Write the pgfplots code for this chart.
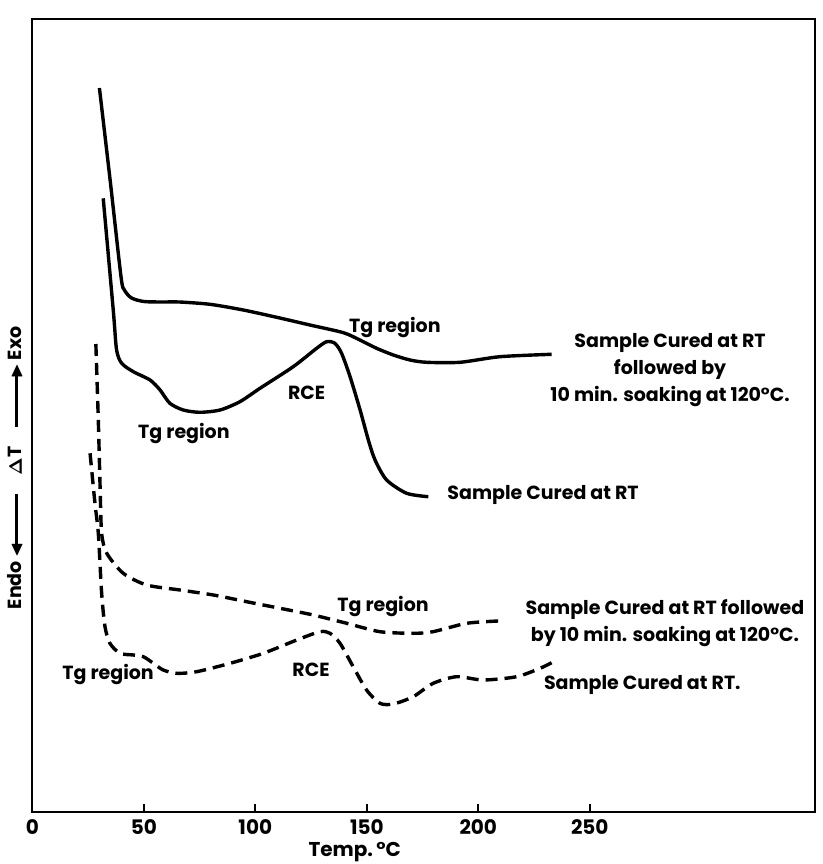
\documentclass[border=0pt]{standalone}
\usepackage[no-math]{fontspec}
\setmainfont{Poppins}
\usepackage{amssymb}
\usepackage{pgfplots}
\pgfplotsset{compat=1.18}
\tikzset{lbl/.style={font=\bfseries\fontsize{9.5}{13.5}\selectfont, inner sep=1pt}}
\begin{document}
\begin{tikzpicture}
\begin{axis}[
  scale only axis,
  width=391.35pt, height=396.5pt,
  xmin=0, xmax=351, ymin=0, ymax=793,
  axis line style={line width=1pt},
  xtick={0,50,100,150,200,250},
  xtick pos=bottom, xtick align=inside,
  major tick length=4pt,
  tick style={line width=1pt, black},
  ytick=\empty,
  clip=false,
  /pgf/number format/assume math mode=true,
  xticklabel style={anchor=center, yshift=-7.5pt, font=\bfseries\fontsize{10}{12}\selectfont},
  xlabel={Temp.\,°C},
  xlabel style={at={(axis description cs:0.412,0)}, anchor=center, yshift=-20pt, font=\bfseries\fontsize{10}{12}\selectfont},
  ylabel={Endo\,$\blacktriangleleft$\kern-1.5pt\rule[2.2pt]{26pt}{1.2pt}\quad$\mathbf{\Delta}$T\quad\rule[2.2pt]{26pt}{1.2pt}\kern-1.5pt$\blacktriangleright$\,Exo},
  ylabel style={at={(axis description cs:0,0.434)}, anchor=center, yshift=8.5pt, font=\bfseries\fontsize{9.5}{11}\selectfont},
]
% Solid: cured at RT + 10 min soaking at 120 C
\addplot[black, line width=1.7pt, smooth, tension=0.45] coordinates {
 (30.1,724) (35.0,630) (39.8,535) (41.3,522) (44.5,514) (50,510.5) (58,510)
 (66,510) (79.7,507.7) (94.6,502) (109.6,494.7) (124.5,487) (139.5,479.3)
 (146.9,472) (154.4,463.7) (161.9,457) (169.4,452) (176.9,449.7) (191.8,449.7)
 (209.7,455.3) (232.9,457.7)
};
% Solid: cured at RT
\addplot[black, line width=1.7pt, smooth, tension=0.45] coordinates {
 (31.8,613.7) (36.3,502) (37.8,462) (40.1,448.7) (45.3,440.3) (52.8,432)
 (57.3,422) (61.7,408.7) (67.7,402) (75.2,399.7) (84.2,402) (93.1,410.3)
 (102.1,423.7) (117.0,445.3) (127.5,463.7) (132.0,470.3) (135.7,468.7)
 (138.7,458.7) (142.5,435.3) (147.0,402) (150.7,372) (153.7,352)
 (158.9,332) (167.9,318.7) (177.6,315.3)
};
% Dashed: cured at RT + soaking
\addplot[black, line width=1.7pt, dash pattern=on 6pt off 3.5pt, smooth, tension=0.45] coordinates {
 (28.5,468) (29.6,392) (30.4,325.3) (31.1,278.7) (33.4,258.7) (40.8,238.7)
 (51.3,227) (66.2,222) (81.2,217) (96.1,210.3) (111.1,203.7) (126.0,197)
 (141.0,188.7) (155.9,180.3) (170.8,178.7) (179.7,180.3) (194.8,188.7)
 (209.0,191)
};
% Dashed: cured at RT
\addplot[black, line width=1.7pt, dash pattern=on 6pt off 3.5pt, smooth, tension=0.45] coordinates {
 (25.9,358.7) (28.1,308.7) (29.6,278.7) (31.1,218.7) (32.6,185.3) (34.8,168.7)
 (39.3,158.7) (45.3,157) (49.8,155.3) (54.3,148.7) (58.7,142) (64.8,138.7)
 (73.7,140.3) (88.7,148.7) (103.6,158.7) (118.6,172) (129.0,180.3)
 (133.5,178.7) (138.0,168.7) (143.9,145.3) (149.9,122) (155.9,108.7)
 (161.9,108) (170.8,115.3) (179.8,128.7) (190.3,135.3) (202.2,132)
 (217.2,135.3) (227.7,143.7) (232.9,149.3)
};
\node[lbl] at (axis cs:162.6,484) {Tg region};
\node[lbl] at (axis cs:123,419) {RCE};
\node[lbl] at (axis cs:68,378) {Tg region};
\node[lbl, align=center] at (axis cs:286,442) {Sample Cured at RT\\followed by\\10 min. soaking at 120°C.};
\node[lbl, anchor=west] at (axis cs:185.1,317) {Sample Cured at RT};
\node[lbl] at (axis cs:157.3,205) {Tg region};
\node[lbl] at (axis cs:34,137) {Tg region};
\node[lbl] at (axis cs:125,142) {RCE};
\node[lbl, align=center] at (axis cs:283.7,189) {Sample Cured at RT followed\\by 10 min. soaking at 120°C.};
\node[lbl, anchor=west] at (axis cs:228.4,127) {Sample Cured at RT.};
\coordinate (ll) at (rel axis cs:0,0);
\coordinate (ur) at (rel axis cs:1,1);
\end{axis}
\pgfresetboundingbox
\path ([shift={(-16.15pt,-26pt)}]ll) rectangle ([shift={(3.5pt,9.5pt)}]ur);
\end{tikzpicture}
\end{document}
